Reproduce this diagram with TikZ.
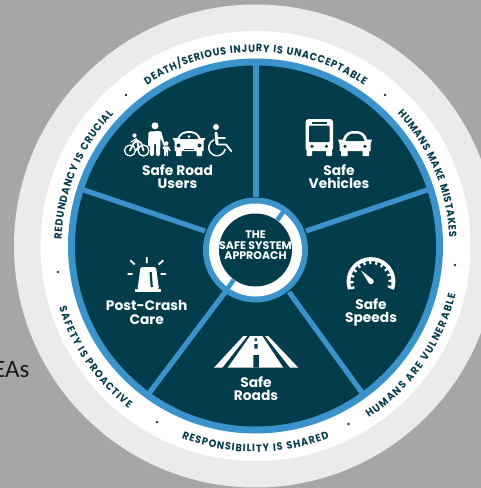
\documentclass[tikz,border=0pt]{standalone}
\usepackage{fontspec}
\setmainfont{Poppins}
\newfontfamily\eafont{Carlito}
\newfontfamily\ringfam[FakeStretch=0.92]{Poppins}
\usetikzlibrary{decorations.text}
\definecolor{bggray}{HTML}{A6A6A6}
\definecolor{ringgray}{HTML}{EBEBEB}
\definecolor{ringblue}{HTML}{3A94CB}
\definecolor{deepteal}{HTML}{033C4A}
\newcommand{\ringfont}{\ringfam\fontsize{10.5}{10.5}\selectfont\bfseries\color{deepteal}}
\tikzset{
  spoke/.style={draw=ringblue,line width=5.2pt},
  gapbar/.style={draw=ringblue,line width=4.5pt},
  label/.style={text=white,font=\fontsize{13.8}{13.6}\selectfont\bfseries,align=center,inner sep=0pt},
  ringtext/.style={decorate,decoration={text along path,text align=fit to path,text={|\ringfont|#1}}},
  icon/.style={fill=white,draw=none},
  iconline/.style={draw=white,line cap=round,line join=round},
  holes/.style={fill=deepteal,draw=none}
}
\begin{document}
\begin{tikzpicture}[x=1pt,y=-1pt]
\useasboundingbox (0,0) rectangle (481,488);
\clip (0,0) rectangle (481,488);
\fill[bggray] (0,0) rectangle (481,488);
\node[anchor=base east,inner sep=0pt,font=\eafont\fontsize{25}{25}\selectfont,text=black!90] (eas) at (29.5,377) {EAs};
% rings
\fill[ringgray] (255.5,246) circle[radius=241.5];
\fill[white] (255.5,246) circle[radius=215];
\fill[ringblue] (255.5,246) circle[radius=187.5];
\fill[deepteal] (255.5,246) circle[radius=180.5];
% spokes
\coordinate (hub) at (255.5,250);
\coordinate (s1a) at (256,197); \coordinate (s1b) at (256,64);
\coordinate (s2a) at (306,231); \coordinate (s2b) at (430,189);
\coordinate (s3a) at (205,231); \coordinate (s3b) at (81,189);
\coordinate (s4a) at (226,291); \coordinate (s4b) at (147,396);
\coordinate (s5a) at (289,292); \coordinate (s5b) at (363,394);
\foreach \n in {1,...,5} \draw[spoke] (s\n a) -- (s\n b);
% hub
\fill[ringblue] (hub) circle[radius=52.5];
\fill[white] (hub) circle[radius=46.5];
\fill[deepteal] (hub) circle[radius=36.5];
\coordinate (g1a) at (277.2,220.2); \coordinate (g1b) at (284.2,210.5);
\coordinate (g2a) at (233.8,279.8); \coordinate (g2b) at (226.8,289.5);
\draw[gapbar] (g1a) -- (g1b);
\draw[gapbar] (g2a) -- (g2b);
\node[text=white,font=\fontsize{11}{10.6}\selectfont\bfseries,align=center,inner sep=0pt] (hubtext) at (255.5,245.5) {THE\\SAFE SYSTEM\\APPROACH};
% ring text
\begin{scope}[shift={(255.5,246)},y=1pt]
\path[ringtext={DEATH/SERIOUS INJURY IS UNACCEPTABLE}] (124:194) arc[start angle=124,end angle=56,radius=194];
\path[ringtext={HUMANS MAKE MISTAKES}] (43:194) arc[start angle=43,end angle=2.5,radius=194];
\path[ringtext={REDUNDANCY IS CRUCIAL}] (178:194) arc[start angle=178,end angle=137,radius=194];
\path[ringtext={HUMANS ARE VULNERABLE}] (-56.6:206) arc[start angle=-56.6,end angle=-13.7,radius=206];
\path[ringtext={RESPONSIBILITY IS SHARED}] (-111:206) arc[start angle=-111,end angle=-69,radius=206];
\path[ringtext={SAFETY IS PROACTIVE}] (197.5:206) arc[start angle=197.5,end angle=232,radius=206];
\end{scope}
\foreach \p in {(126,95),(385,95),(58,272),(157,422),(348.5,424),(455,265)}
  \fill[deepteal] \p circle[radius=1.3];
% labels
\node[label] (users) at (177.5,176.5) {Safe Road\\Users};
\node[label] (vehicles) at (339,176.5) {Safe\\Vehicles};
\node[label] (care) at (146.7,312.5) {Post-Crash\\Care};
\node[label] (speeds) at (371,312.5) {Safe\\Speeds};
\node[label] (roads) at (256,388.5) {Safe\\Roads};
% bus
\fill[icon,rounded corners=3pt] (305.5,119) rectangle (333,151);
\fill[icon,rounded corners=1pt] (306.5,148) rectangle (312,156);
\fill[icon,rounded corners=1pt] (326,148) rectangle (332,156);
\fill[holes,rounded corners=1pt] (309,125.5) rectangle (329.5,142);
\fill[holes] (312,122) rectangle (327,123.5);
\fill[holes] (312,146.4) circle[radius=1.8] (326.5,146.4) circle[radius=1.8];
% car (vehicles)
\fill[icon] (338,139.5) -- (343,139.5) .. controls (345,132) and (350,131) .. (355,131) .. controls (360,131) and (365,132) .. (367,139.5) -- (372,139.5) -- (370.5,144) -- (370.5,151) -- (369,151) -- (369,156) -- (362.5,156) -- (362.5,151) -- (347.5,151) -- (347.5,156) -- (341,156) -- (341,151) -- (339.5,151) -- (339.5,144) -- cycle;
\fill[holes] (345.5,141) .. controls (347,135) and (350,133.5) .. (355,133.5) .. controls (360,133.5) and (363,135) .. (364.5,141) -- cycle;
\fill[holes] (345,146.3) circle[radius=1.8] (365,146.3) circle[radius=1.8];
% siren
\fill[icon] (135,289.2) rectangle (161,291.8);
\fill[icon,rounded corners=1.5pt] (137.5,289.5) -- (140.5,267) -- (156,267) -- (159,289.5) -- cycle;
\draw[draw=deepteal,line width=2.2pt] (150.6,272) -- (151.8,287);
\draw[iconline,line width=1.9pt,line cap=butt] (146.7,257) -- (146.7,263.3) (130.3,260.3) -- (134.7,264.5) (163.3,260.3) -- (158.7,264.5) (127.5,274) -- (132.7,274) (160.7,274) -- (166,274);
% speedometer
\begin{scope}[shift={(371,281.5)},y=1pt]
\draw[draw=white,line width=3.8pt] (-20:22.5) arc[start angle=-20,end angle=200,radius=22.5];
\foreach \a in {-16,2,20,38,56,74,92,110,128,146,164,182,199}
  \draw[draw=white,line width=2.2pt] (\a:21) -- (\a:17.5);
\fill[icon] (132:15) -- (42:2.7) arc[start angle=42,end angle=-138,radius=2.7] -- cycle;
\end{scope}
% road
\fill[icon] (243.3,336) -- (247.3,336) -- (222.3,367.7) -- (214,367.7) -- cycle;
\fill[icon] (250,336) -- (262.3,336) -- (283.3,367.7) -- (227.7,367.7) -- cycle;
\fill[icon] (265,336) -- (268.3,336) -- (298.3,367.7) -- (290,367.7) -- cycle;
\fill[holes] (254.6,338.3) rectangle (257,341) (254.3,344) rectangle (257.7,348.5) (253.4,355) rectangle (258.8,367.7);
% bicycle and rider
\draw[iconline,line width=1.3pt] (130,150.5) circle[radius=5.5] (143.5,150.5) circle[radius=5.5];
\fill[icon] (134.5,135.5) circle[radius=2.1];
\draw[iconline,line width=1.8pt] (130,150.5) -- (133.5,143.5) -- (137,140) -- (141,143) -- (143.5,150.5) (137,140) -- (138.5,147.5) -- (135.5,150.5);
\draw[iconline,line width=1.2pt] (131,142) -- (136.5,138.5);
% man
\fill[icon] (155,125.8) circle[radius=3.5];
\fill[icon,rounded corners=1.5pt] (148,147) -- (148.5,131.5) -- (161.5,131) -- (162,134.5) -- (165.5,146) -- (164,146.5) -- (160.5,138) -- (160,156) -- (156,156) -- (156,143) -- (154,143) -- (154,156) -- (150,156) -- (150,138) -- (149.8,147) -- cycle;
% child
\fill[icon] (166.3,143.5) circle[radius=2.2];
\fill[icon,rounded corners=.6pt] (162.3,147) -- (164,146.3) -- (168.5,146.3) -- (171,151) -- (170,151.6) -- (168.2,149) -- (168.2,156) -- (166.5,156) -- (166.5,152) -- (165.9,152) -- (165.9,156) -- (164.2,156) -- (164.2,149.5) -- (163.2,149) -- cycle;
% car (users)
\fill[icon] (172.5,138) -- (177.5,138) .. controls (179.5,133) and (184,131) .. (189,131) .. controls (194,131) and (198.5,133) .. (200.5,138) -- (205.5,138) -- (203.5,141.5) -- (203.5,151) -- (202,151) -- (202,156) -- (196.5,156) -- (196.5,151) -- (181.5,151) -- (181.5,156) -- (176,156) -- (176,151) -- (174.5,151) -- (174.5,141.5) -- cycle;
\fill[holes] (179.5,139) .. controls (181,134.5) and (184.5,133) .. (189,133) .. controls (193.5,133) and (197,134.5) .. (198.5,139) -- cycle;
\fill[icon] (189,136.6) circle[radius=1.5];
\fill[icon] (185.5,138.6) rectangle (192.5,139);
\fill[holes] (178.5,145.5) circle[radius=2] (199.5,145.5) circle[radius=2];
\fill[holes] (184,148.5) rectangle (194,149.4);
% wheelchair
\fill[icon] (216,127) circle[radius=3];
\draw[iconline,line width=3pt] (216,133) -- (217,143.5);
\draw[iconline,line width=1.8pt] (217,138) -- (225,138) (217,144.5) -- (226,144.5) -- (231.5,151.5);
\draw[iconline,line width=1.5pt,line cap=butt] (225.2,148.9) arc[start angle=10,end angle=250,radius=8.3];
\end{tikzpicture}
\end{document}
